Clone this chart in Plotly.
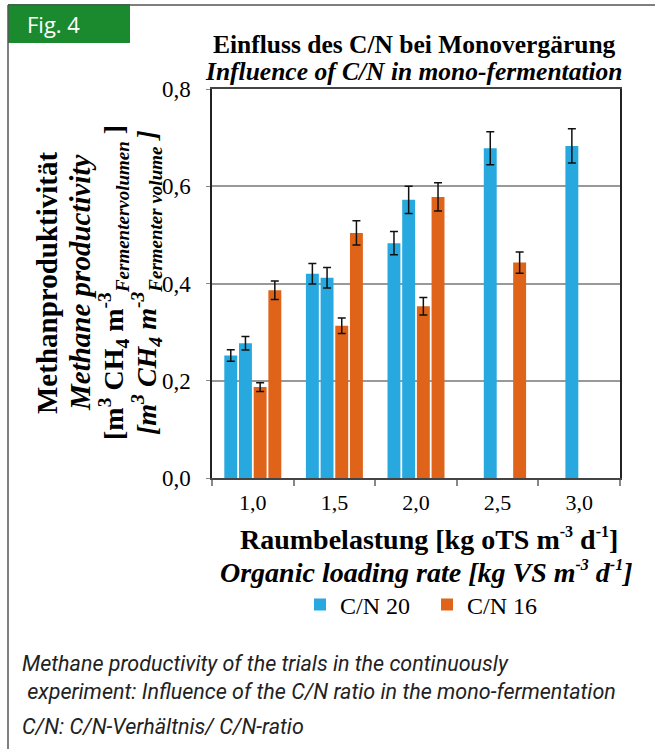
import plotly.graph_objects as go

# ---- data ----
categories = ["1,0", "1,5", "2,0", "2,5", "3,0"]
cn20_a = [0.252, 0.420, 0.483, None, None]
cn20_a_err = [0.012, 0.021, 0.024, 0, 0]
cn20_b = [0.277, 0.412, 0.572, 0.678, 0.683]
cn20_b_err = [0.014, 0.021, 0.028, 0.034, 0.035]
cn16_a = [0.187, 0.313, 0.353, None, None]
cn16_a_err = [0.009, 0.016, 0.018, 0, 0]
cn16_b = [0.386, 0.504, 0.578, 0.443, None]
cn16_b_err = [0.019, 0.025, 0.029, 0.022, 0]

BLUE = "#27A9E0"
ORANGE = "#E0631A"
SERIF = "Liberation Serif"
SANS = "Roboto"

W, H = 655, 749
L, R, T, B = 212, 620, 89, 478


def px(x):
    return (x - L) / (R - L)


def py(y):
    return (B - y) / (B - T)


fig = go.Figure()
series = [
    (cn20_a, cn20_a_err, BLUE, "C/N 20", "g20", False),
    (cn20_b, cn20_b_err, BLUE, "C/N 20\u00a0\u00a0", "g20", True),
    (cn16_a, cn16_a_err, ORANGE, "C/N 16", "g16", False),
    (cn16_b, cn16_b_err, ORANGE, "C/N 16", "g16", True),
]
for vals, errs, col, name, grp, show in series:
    fig.add_trace(go.Bar(
        x=categories, y=vals, name=name, legendgroup=grp, showlegend=show,
        marker=dict(color=col, line=dict(width=0)),
        error_y=dict(type="data", array=errs, visible=True,
                     color="#111111", thickness=1.5, width=4),
    ))

fig.update_layout(
    width=W, height=H,
    margin=dict(l=L, r=W - R, t=T, b=H - B, pad=0),
    paper_bgcolor="white", plot_bgcolor="white",
    barmode="group", bargap=0.28, bargroupgap=0.12,
    separators=", ",
    font=dict(family=SERIF, color="black"),
    showlegend=True,
    legend=dict(orientation="h", x=px(300), y=py(605), xanchor="left",
                yanchor="middle", font=dict(family=SERIF, size=24),
                itemwidth=30, traceorder="normal", bgcolor="rgba(0,0,0,0)"),
    xaxis=dict(
        type="category", tickson="boundaries", ticks="outside", ticklen=6,
        tickcolor="#888888", tickwidth=1.5,
        showline=True, linecolor="#444444", linewidth=1.5, mirror=True,
        showgrid=False, tickfont=dict(family=SERIF, size=22),
        ticklabelstandoff=4,
    ),
    yaxis=dict(
        range=[0, 0.8], dtick=0.2, tickformat=".1f",
        ticks="outside", ticklen=4, tickcolor="#888888",
        showline=True, linecolor="#222222", linewidth=1.5, mirror=True,
        showgrid=True, gridcolor="#999999", gridwidth=1.5,
        zeroline=False, tickfont=dict(family=SERIF, size=23),
        ticklabelstandoff=11,
    ),
)

ann = []
# Title
ann.append(dict(text="<b>Einfluss des C/N bei Monovergärung</b>",
                x=px(414), y=py(44), font=dict(size=25.5, family=SERIF)))
ann.append(dict(text="<b><i>Influence of C/N in mono-fermentation</i></b>",
                x=px(414), y=py(72), font=dict(size=25.5, family=SERIF)))
# Y title lines
SUBF = '<span style="font-size:19px">'
ylines = [
    (47, 29, "<b>Methanproduktivität</b>"),
    (80, 29, "<b><i>Methane productivity</i></b>"),
    (113, 28, "<b>[m<sup>3</sup> CH<sub>4</sub> m<sup>-3</sup><sub>" + SUBF
     + "<i>Fermentervolumen</i></span></sub> ]</b>"),
    (146, 28, "<b><i>[m<sup>3</sup> CH<sub>4</sub> m<sup>-3</sup><sub>" + SUBF
     + "Fermenter volume</span></sub> ]</i></b>"),
]
for xx, fs, t in ylines:
    ann.append(dict(text=t, x=px(xx), y=py(283), textangle=-90,
                    font=dict(size=fs, family=SERIF)))
# X title lines
SUPF = '<span style="font-size:16px">'
ann.append(dict(text="<b>Raumbelastung [kg oTS m<sup>" + SUPF + "-3</span></sup> d<sup>"
                + SUPF + "-1</span></sup>]</b>",
                x=px(429), y=py(539), font=dict(size=28, family=SERIF)))
ann.append(dict(text="<b><i>Organic loading rate [kg VS m<sup>" + SUPF + "-3</span></sup> d<sup>"
                + SUPF + "-1</span></sup>]</i></b>",
                x=px(426), y=py(572), font=dict(size=28, family=SERIF)))
# Caption
caps = [
    (20, 663, "<i>Methane productivity of the trials in the continuously</i>"),
    (20, 691, "<i> experiment: Influence of the C/N ratio in the mono-fermentation</i>"),
    (20, 726, "<i>C/N: C/N-Verhältnis/ C/N-ratio</i>"),
]
for xx, yy, t in caps:
    ann.append(dict(text=t, x=px(xx), y=py(yy), xanchor="left",
                    font=dict(size=21.5, family=SANS, color="#222222")))
# Fig label
ann.append(dict(text="Fig. 4", x=px(25), y=py(24), xanchor="left",
                font=dict(size=22, family="Open Sans", color="white")))

for a in ann:
    a.setdefault("xanchor", "center")
    a.update(xref="paper", yref="paper", yanchor="middle", showarrow=False)
fig.update_layout(annotations=ann)

shapes = [
    dict(type="line", xref="paper", yref="paper", x0=px(8), x1=px(655),
         y0=py(5), y1=py(5), line=dict(color="#555555", width=1.5)),
    dict(type="line", xref="paper", yref="paper", x0=px(8), x1=px(8),
         y0=py(5), y1=py(749), line=dict(color="#555555", width=1.5)),
    dict(type="rect", xref="paper", yref="paper", x0=px(8), x1=px(130),
         y0=py(4), y1=py(43), line=dict(width=0), fillcolor="#1B8A2F",
         layer="below"),
]
fig.update_layout(shapes=shapes)

fig.write_html("out.html")
